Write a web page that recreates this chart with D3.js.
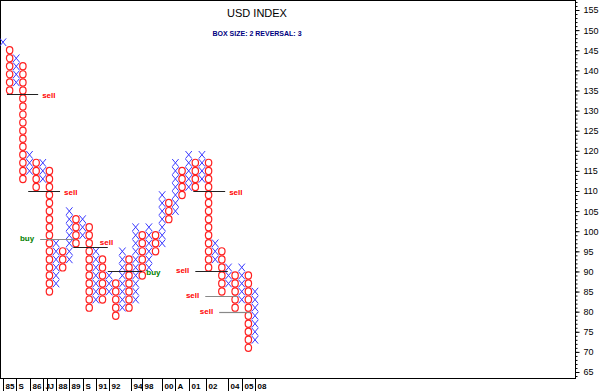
<!DOCTYPE html>
<html>
<head>
<meta charset="utf-8">
<script src="https://cdn.jsdelivr.net/npm/d3@7"></script>
<style>
body { margin: 0; background: #fff; }
text { font-family: "Liberation Sans", Arial, sans-serif; }
</style>
</head>
<body>
<svg id="chart"></svg>
<script>
const WIDTH = 600;
const HEIGHT = 391;

// Point & figure columns (box centre values, box size 2)
const colType = ['X','O','X','O','X','O','X','O','X','O','X','O','X','O','X','O','X','O','X','O',
                 'X','O','X','O','X','O','X','O','X','O','X','O','X','O','X','O','X','O','X'];
const colHigh = [147,145,143,141,119,117,117,115, 97, 95,105,103,103,101, 95, 93, 89, 87, 95, 93,
                 101, 99,101, 99,109,107,117,115,119,117,119,117, 97, 95, 91, 89, 91, 89, 85];
const colLow  = [147,135,137,113,115,111,113, 85, 87, 91, 93, 97, 99, 81, 83, 83, 85, 79, 81, 81,
                  83, 89, 91, 95, 97,103,105,109,111,111,113, 91, 93, 85, 87, 81, 83, 71, 73];

// right axis
const priceTicks = [65, 70, 75, 80, 85, 90, 95, 100, 105, 110, 115, 120, 125, 130, 135, 140, 145, 150, 155];

// bottom date labels and the column they sit on
const dateLabels = ['85','S','86','J','J','88','89','S','91','92','94','98','00','A','01','02','04','05','08'];
const dateCols   = [0, 2, 4, 6, 6.7, 8, 10, 12, 14, 16, 19.3, 21, 24, 26, 28, 30.6, 34, 36, 38];

// buy / sell signal lines (price level, column span)
const sigText  = ['sell','sell','buy','sell','buy','sell','sell','sell','sell'];
const sigLevel = [134, 110, 98, 96, 90, 110, 90, 84, 80];
const sigFrom  = [0.6, 3.8, 5.6, 10.6, 15.8, 28.7, 29.0, 30.5, 32.6];
const sigTo    = [5.3, 8.6, 10.9, 15.8, 21.0, 33.5, 33.9, 35.4, 37.3];
const sigSide  = ['right','right','left','above','right','right','left','left','left'];

function init() {
    let svg = d3.select('#chart')
        .attr('width', WIDTH)
        .attr('height', HEIGHT);

    const plotRight = 575;
    const plotBottom = 378;

    let x = d3.scaleLinear().domain([0, 38]).range([3, 255]);
    let y = d3.scaleLinear().domain([65, 155]).range([372, 10]);

    const hw = 3.2, hh = 3.8;

    svg.append('rect')
        .attr('x', 0.5).attr('y', 0.5)
        .attr('width', plotRight).attr('height', plotBottom)
        .attr('fill', 'none').attr('stroke', '#000');

    // title
    svg.append('text')
        .attr('x', 257).attr('y', 17)
        .attr('text-anchor', 'middle')
        .style('font-size', '11px')
        .text('USD INDEX');
    svg.append('text')
        .attr('x', 257).attr('y', 36)
        .attr('text-anchor', 'middle')
        .style('font-size', '7px').style('font-weight', 'bold')
        .attr('fill', '#000080')
        .text('BOX SIZE: 2 REVERSAL: 3');

    // flatten columns into boxes
    let boxes = [];
    colType.forEach((t, i) => {
        for (let v = colLow[i]; v <= colHigh[i]; v += 2) {
            boxes.push({ col: i, type: t, value: v });
        }
    });

    let marks = svg.append('g').attr('class', 'boxes');

    marks.selectAll('ellipse')
        .data(boxes.filter(d => d.type == 'O'))
        .enter().append('ellipse')
        .attr('cx', d => x(d.col))
        .attr('cy', d => y(d.value))
        .attr('rx', hw)
        .attr('ry', hh - 0.2)
        .attr('fill', 'none')
        .attr('stroke', '#ff2020')
        .attr('stroke-width', 1.2);

    marks.selectAll('path')
        .data(boxes.filter(d => d.type == 'X'))
        .enter().append('path')
        .attr('d', d => {
            let cx = x(d.col), cy = y(d.value);
            return `M${cx - hw},${cy - hh}L${cx + hw},${cy + hh}M${cx + hw},${cy - hh}L${cx - hw},${cy + hh}`;
        })
        .attr('fill', 'none')
        .attr('stroke', '#3a3aff')
        .attr('stroke-width', 1);

    // signal lines
    const grayLines = new Set([2, 7, 8]);
    let sig = svg.append('g').attr('class', 'signals');
    sigText.forEach((t, i) => {
        let ly = Math.round(y(sigLevel[i])) + 0.5;
        let x0 = x(sigFrom[i]), x1 = x(sigTo[i]);
        sig.append('line')
            .attr('x1', x0).attr('x2', x1)
            .attr('y1', ly).attr('y2', ly)
            .attr('stroke', grayLines.has(i) ? '#888' : '#222')
            .attr('stroke-width', 1.2);
        let label = sig.append('text')
            .style('font-size', '8px').style('font-weight', 'bold')
            .attr('fill', t == 'buy' ? '#008000' : '#ff0000')
            .text(t);
        if (sigSide[i] == 'right') {
            label.attr('x', x1 + 4).attr('y', ly + 3);
        } else if (sigSide[i] == 'left') {
            label.attr('x', x0 - 6).attr('y', ly + 1).attr('text-anchor', 'end');
        } else {
            label.attr('x', x1 - 8).attr('y', ly - 3);
        }
    });

    // right price axis
    let axisG = svg.append('g')
        .attr('transform', `translate(${plotRight + 0.5},0)`);
    axisG.call(d3.axisRight(y)
        .tickValues(d3.range(64, 158, 1))
        .tickSize(2)
        .tickFormat(''));
    axisG.call(g => g.select('.domain').remove());
    let major = svg.append('g')
        .attr('transform', `translate(${plotRight + 0.5},0)`)
        .call(d3.axisRight(y)
            .tickValues(priceTicks)
            .tickSize(4)
            .tickPadding(4));
    major.select('.domain').remove();
    major.selectAll('text')
        .style('font-size', '9px')
        .attr('fill', '#000');

    // bottom date labels
    let dates = svg.append('g').attr('class', 'dates');
    dateLabels.forEach((lab, i) => {
        let tx = Math.round(x(dateCols[i])) + 0.5;
        dates.append('line')
            .attr('x1', tx).attr('x2', tx)
            .attr('y1', plotBottom).attr('y2', HEIGHT)
            .attr('stroke', '#000');
        dates.append('text')
            .attr('x', tx + 2).attr('y', 389)
            .style('font-size', '8px').style('font-weight', 'bold')
            .text(lab);
    });
}

window.onload = init;
</script>
</body>
</html>
